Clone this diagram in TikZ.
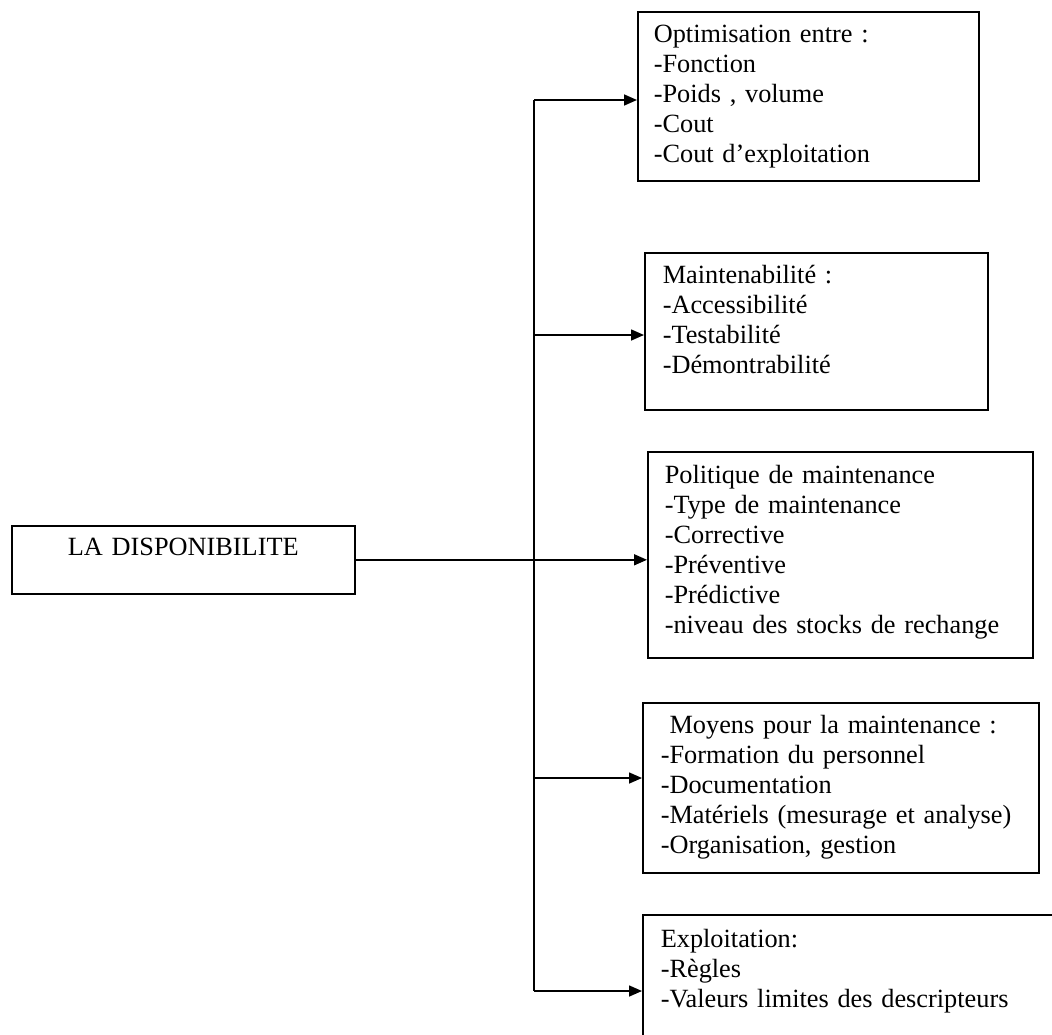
\documentclass[tikz,border=0pt]{standalone}
\usepackage{fontspec}
\setmainfont{Liberation Serif}
\usetikzlibrary{arrows.meta}

\begin{document}
\begin{tikzpicture}[x=1pt,y=-1pt,>={Triangle[length=13pt,width=11pt]},box/.style={draw,line width=1.6pt,anchor=north west,inner ysep=0pt,align=left,font=\fontsize{26.3}{30}\selectfont},branch/.style={->,line width=1.6pt},trunk/.style={line width=1.6pt}]
\clip (0,0) rectangle (1052,1034);
\node[box,align=center,inner xsep=0pt,text width=343pt,text height=30pt,text depth=38pt] (dispo) at (11,525) {LA DISPONIBILITE};
\node[box,inner xsep=16pt,text width=309pt,text height=31pt,text depth=138pt] (opt) at (637,11) {Optimisation entre :\\-Fonction\\-Poids , volume\\-Cout\\-Cout d’exploitation};
\node[box,inner xsep=18pt,text width=307pt,text height=31pt,text depth=126pt] (maint) at (644,252) {Maintenabilité :\\-Accessibilité\\-Testabilité\\-Démontrabilité};
\node[box,inner xsep=17pt,text width=351pt,text height=32pt,text depth=174pt] (pol) at (647,451) {Politique de maintenance\\-Type de maintenance\\-Corrective\\-Préventive\\-Prédictive\\-niveau des stocks de rechange};
\node[box,inner xsep=18pt,text width=360pt,text height=31pt,text depth=139pt] (moy) at (642,702) {\ Moyens pour la maintenance :\\-Formation du personnel\\-Documentation\\-Matériels (mesurage et analyse)\\-Organisation, gestion};
\node[box,inner xsep=18pt,text width=424pt,text height=33pt,text depth=130pt] (expl) at (642,914) {Exploitation:\\-Règles\\-Valeurs limites des descripteurs};
\coordinate (j1) at (534,100); \coordinate (j2) at (534,335); \coordinate (j4) at (534,778); \coordinate (j5) at (534,991);
\draw[trunk] (j1) -- (j5);
\draw[branch] (j1) -- (j1 -| opt.west); \draw[branch] (j2) -- (j2 -| maint.west);
\draw[branch] (dispo.east) -- (dispo.east -| pol.west);
\draw[branch] (j4) -- (j4 -| moy.west); \draw[branch] (j5) -- (j5 -| expl.west);
\end{tikzpicture}
\end{document}
